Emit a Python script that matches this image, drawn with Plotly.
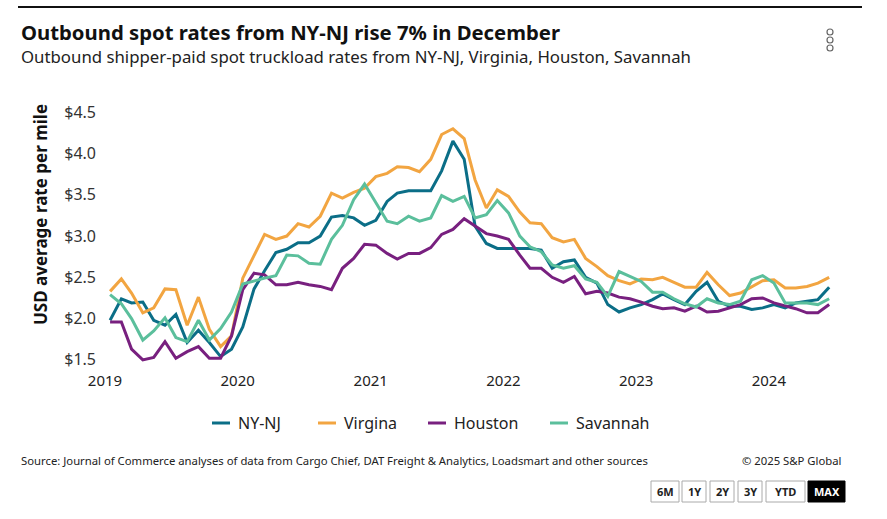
import plotly.graph_objects as go
import pandas as pd

dates = pd.date_range("2019-01-01", periods=66, freq="MS") + pd.Timedelta(days=14)

ny_nj = [1.98, 2.24, 2.19, 2.20, 1.98, 1.92, 2.05, 1.71, 1.86, 1.71, 1.54, 1.63,
         1.90, 2.36, 2.58, 2.80, 2.84, 2.92, 2.92, 3.00, 3.23, 3.25, 3.22, 3.13,
         3.19, 3.42, 3.52, 3.55, 3.55, 3.55, 3.79, 4.15, 3.93, 3.12, 2.91, 2.85,
         2.85, 2.85, 2.85, 2.83, 2.61, 2.69, 2.71, 2.50, 2.43, 2.17, 2.08, 2.13,
         2.17, 2.23, 2.30, 2.23, 2.17, 2.33, 2.44, 2.21, 2.15, 2.15, 2.11, 2.13,
         2.17, 2.13, 2.19, 2.21, 2.23, 2.38]
virginia = [2.33, 2.48, 2.31, 2.07, 2.13, 2.36, 2.35, 1.92, 2.26, 1.87, 1.66, 1.79,
            2.49, 2.77, 3.02, 2.96, 3.00, 3.15, 3.11, 3.24, 3.52, 3.46, 3.53, 3.58,
            3.72, 3.76, 3.84, 3.83, 3.78, 3.93, 4.23, 4.30, 4.18, 3.68, 3.34, 3.56,
            3.48, 3.29, 3.16, 3.15, 2.98, 2.93, 2.96, 2.73, 2.63, 2.52, 2.46, 2.42,
            2.48, 2.47, 2.50, 2.44, 2.38, 2.38, 2.56, 2.41, 2.28, 2.31, 2.39, 2.46,
            2.47, 2.37, 2.37, 2.39, 2.43, 2.50]
houston = [1.96, 1.96, 1.63, 1.50, 1.53, 1.72, 1.52, 1.60, 1.66, 1.52, 1.52, 1.79,
           2.35, 2.55, 2.53, 2.41, 2.41, 2.44, 2.41, 2.39, 2.35, 2.61, 2.73, 2.90,
           2.89, 2.79, 2.72, 2.79, 2.79, 2.86, 3.02, 3.08, 3.21, 3.12, 3.03, 3.00,
           2.96, 2.77, 2.61, 2.61, 2.50, 2.44, 2.51, 2.30, 2.33, 2.31, 2.26, 2.24,
           2.20, 2.15, 2.12, 2.13, 2.09, 2.15, 2.08, 2.09, 2.13, 2.17, 2.24, 2.25,
           2.19, 2.15, 2.12, 2.07, 2.07, 2.17]
savannah = [2.29, 2.18, 2.00, 1.74, 1.85, 2.01, 1.77, 1.72, 1.98, 1.74, 1.88, 2.08,
            2.42, 2.46, 2.49, 2.52, 2.77, 2.76, 2.67, 2.66, 2.96, 3.13, 3.44, 3.63,
            3.40, 3.18, 3.15, 3.24, 3.18, 3.22, 3.49, 3.42, 3.48, 3.22, 3.26, 3.43,
            3.28, 3.00, 2.87, 2.81, 2.65, 2.61, 2.64, 2.48, 2.44, 2.27, 2.57, 2.51,
            2.45, 2.32, 2.32, 2.24, 2.18, 2.14, 2.24, 2.19, 2.17, 2.21, 2.47, 2.52,
            2.43, 2.19, 2.19, 2.19, 2.17, 2.24]

series_names = ["NY-NJ", "Virgina", "Houston", "Savannah"]
series_values = [ny_nj, virginia, houston, savannah]
series_colors = ["#0b6e87", "#f2a541", "#78207f", "#5bbf9c"]

y_ticks = [1.5, 2.0, 2.5, 3.0, 3.5, 4.0, 4.5]
y_tick_labels = ["&#36;1.5", "&#36;2.0", "&#36;2.5", "&#36;3.0", "&#36;3.5", "&#36;4.0", "&#36;4.5"]
x_ticks = ["2019-01-01", "2020-01-01", "2021-01-01", "2022-01-01", "2023-01-01", "2024-01-01"]
x_tick_labels = ["2019", "2020", "2021", "2022", "2023", "2024"]
buttons = ["6M", "1Y", "2Y", "3Y", "YTD", "MAX"]

W, H = 887, 519
L, R, T, B = 105, 56, 104, 155
PW, PH = W - L - R, H - T - B
PB = H - B

def px(x):
    return (x - L) / PW

def py(y):
    return (PB - y) / PH

FONT = "Noto Sans"

fig = go.Figure()
for name, vals, col in zip(series_names, series_values, series_colors):
    fig.add_trace(go.Scatter(x=dates, y=vals, mode="lines", name=name,
                             line=dict(color=col, width=3), showlegend=False))

fig.update_layout(
    width=W, height=H,
    margin=dict(l=L, r=R, t=T, b=B),
    paper_bgcolor="white", plot_bgcolor="white",
    font=dict(family=FONT, color="#333333"),
    xaxis=dict(range=["2019-01-01", "2024-06-20"], tickvals=x_ticks, ticktext=x_tick_labels,
               showgrid=False, zeroline=False, showline=False,
               tickfont=dict(size=15, color="#222222"), ticks="", ticklabelstandoff=6),
    yaxis=dict(range=[1.45, 4.6], tickvals=y_ticks, ticktext=y_tick_labels,
               showgrid=False, zeroline=False, showline=False,
               tickfont=dict(size=16, color="#333333"), ticks="", ticklabelstandoff=8),
)

ann = []
shapes = []
# top rule
shapes.append(dict(type="line", xref="paper", yref="paper", x0=px(18), x1=px(862), y0=py(7), y1=py(7),
                   line=dict(color="#111111", width=2)))
ann.append(dict(text="<b>Outbound spot rates from NY-NJ rise 7% in December</b>", xref="paper", yref="paper",
                x=px(19), y=py(31.5), xanchor="left", yanchor="middle", showarrow=False,
                font=dict(size=20.3, color="#111111", family=FONT)))
ann.append(dict(text="Outbound shipper-paid spot truckload rates from NY-NJ, Virginia, Houston, Savannah",
                xref="paper", yref="paper", x=px(19), y=py(57), xanchor="left", yanchor="middle",
                showarrow=False, font=dict(size=16.8, color="#222222", family=FONT)))
# three dots menu
for cy in [32, 40, 48]:
    shapes.append(dict(type="circle", xref="paper", yref="paper", x0=px(827), x1=px(833),
                       y0=py(cy + 3), y1=py(cy - 3), line=dict(color="#666666", width=1.2)))
# y axis title
ann.append(dict(text="<b>USD average rate per mile</b>", xref="paper", yref="paper",
                x=px(40), y=py(215), textangle=-90, xanchor="center", yanchor="middle",
                showarrow=False, font=dict(size=17, color="#111111", family=FONT)))
# legend
leg_x = [212, 318, 428, 550]
for name, col, lx in zip(series_names, series_colors, leg_x):
    shapes.append(dict(type="line", xref="paper", yref="paper", x0=px(lx), x1=px(lx + 18),
                       y0=py(423), y1=py(423), line=dict(color=col, width=3)))
    ann.append(dict(text=name, xref="paper", yref="paper", x=px(lx + 24), y=py(423),
                    xanchor="left", yanchor="middle", showarrow=False,
                    font=dict(size=16, color="#222222", family=FONT)))
# footer
ann.append(dict(text="Source: Journal of Commerce analyses of data from Cargo Chief, DAT Freight &amp; Analytics, Loadsmart and other sources",
                xref="paper", yref="paper", x=px(19), y=py(460), xanchor="left", yanchor="middle",
                showarrow=False, font=dict(size=11.3, color="#222222", family=FONT)))
ann.append(dict(text="© 2025 S&amp;P Global", xref="paper", yref="paper", x=px(844), y=py(460),
                xanchor="right", yanchor="middle", showarrow=False,
                font=dict(size=11.3, color="#222222", family=FONT)))
# range buttons
btn_x = [(651, 679), (682, 706), (710, 734), (738, 762), (766, 805), (808, 845)]
for lab, (x0, x1) in zip(buttons, btn_x):
    sel = lab == "MAX"
    shapes.append(dict(type="rect", xref="paper", yref="paper", x0=px(x0), x1=px(x1),
                       y0=py(502), y1=py(481), fillcolor="#000000" if sel else "#ffffff",
                       line=dict(color="#000000" if sel else "#aaaaaa", width=1)))
    ann.append(dict(text=f"<b>{lab}</b>", xref="paper", yref="paper", x=px((x0 + x1) / 2), y=py(491.5),
                    xanchor="center", yanchor="middle", showarrow=False,
                    font=dict(size=11, color="#ffffff" if sel else "#222222", family=FONT)))

fig.update_layout(annotations=ann, shapes=shapes)
fig.write_html("out.html")
